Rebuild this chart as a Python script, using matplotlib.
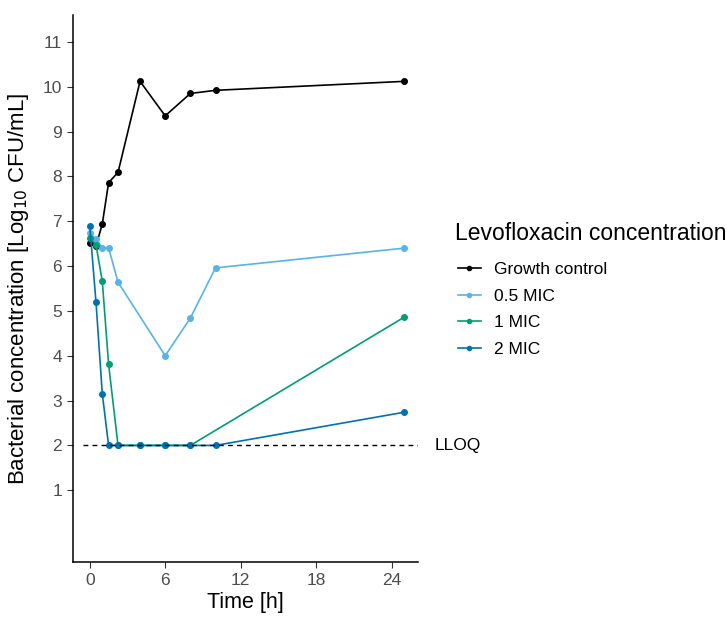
import matplotlib
matplotlib.use('Agg')
import matplotlib.pyplot as plt

plt.rcParams['font.family'] = ['Liberation Sans', 'DejaVu Sans']

# time points [h] and log10 CFU/mL
t_growth = [0, 0.5, 1, 1.5, 2.25, 4, 6, 8, 10, 25]
y_growth = [6.51, 6.45, 6.94, 7.86, 8.09, 10.12, 9.35, 9.85, 9.92, 10.12]

t_half = [0, 0.5, 1, 1.5, 2.25, 6, 8, 10, 25]
y_half = [6.73, 6.60, 6.41, 6.41, 5.64, 4.0, 4.84, 5.96, 6.40]

t_one = [0, 0.5, 1, 1.5, 2.25, 4, 6, 8, 25]
y_one = [6.63, 6.47, 5.66, 3.81, 2.0, 2.0, 2.0, 2.0, 4.86]

t_two = [0, 0.5, 1, 1.5, 2.25, 4, 6, 8, 10, 25]
y_two = [6.90, 5.19, 3.15, 2.0, 2.0, 2.0, 2.0, 2.0, 2.0, 2.74]

labels = ['Growth control', '0.5 MIC', '1 MIC', '2 MIC']
colors = ['#000000', '#56B4E9', '#009E73', '#0072B2']
lloq = 2

fig = plt.figure(figsize=(7.27, 6.19), dpi=100)
ax = fig.add_axes([73/727, 57/619, 345/727, 547/619])

series = [(t_growth, y_growth), (t_half, y_half), (t_one, y_one), (t_two, y_two)]
for (t, y), lab, c in zip(series, labels, colors):
    ax.plot(t, y, color=c, lw=1.2, marker='o', ms=4, label=lab)

ax.plot([-0.5, 26.1], [lloq, lloq], '--', color='k', lw=1.0, dashes=(3.5, 3))
ax.text(27.4, lloq, 'LLOQ', fontsize=12.5, va='center', ha='left', clip_on=False)

ax.set_xlim(-1.33, 26.1)
ax.set_ylim(-0.6, 11.6)
ax.set_xticks([0, 6, 12, 18, 24])
ax.set_yticks(range(1, 12))
ax.tick_params(labelsize=12.5, labelcolor='#4d4d4d', length=4.5, width=0.8, color='#333333')
for s in ['top', 'right']:
    ax.spines[s].set_visible(False)
for s in ['left', 'bottom']:
    ax.spines[s].set_linewidth(1.1)

ax.set_xlabel('Time [h]', fontsize=15.5, labelpad=3)
ax.set_ylabel('Bacterial concentration [Log$_{10}$ CFU/mL]', fontsize=16, labelpad=8)

fig.text(455/727, 1 - 233/619, 'Levofloxacin concentration', fontsize=16.5,
         ha='left', va='center')
leg = fig.legend(loc='upper left', bbox_to_anchor=(458/727, 1 - 262/619),
                 frameon=False, fontsize=12.5, borderpad=0, borderaxespad=0,
                 handlelength=1.32, handletextpad=0.78, labelspacing=0.66,
                 markerscale=0.75)

fig.savefig('out.png', dpi=100)
